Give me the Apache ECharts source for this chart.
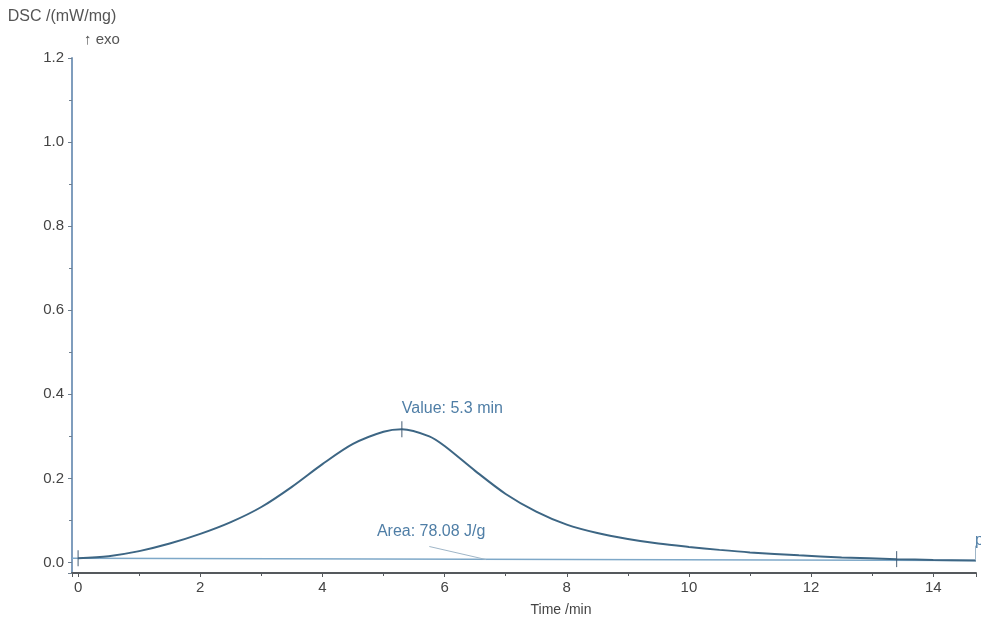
<!DOCTYPE html>
<html>
<head>
<meta charset="utf-8">
<script src="https://cdn.jsdelivr.net/npm/echarts@6/dist/echarts.min.js"></script>
<style>
  html, body { margin: 0; padding: 0; background: #fff; }
  #chart { width: 981px; height: 619px; }
</style>
</head>
<body>
<div id="chart"></div>
<script>
// DSC curve (time /min, mW/mg)
const curveTime = [0, 0.5, 1, 1.5, 2, 2.5, 3, 3.5, 4, 4.5, 5, 5.3, 5.75, 6, 6.5, 7, 7.5, 8, 8.5, 9, 9.5, 10, 10.5, 11, 11.8, 12.5, 13.4, 14, 14.7]
const curveDsc = [0.010, 0.015, 0.027, 0.045, 0.068, 0.096, 0.132, 0.180, 0.234, 0.282, 0.311, 0.317, 0.300, 0.277, 0.218, 0.163, 0.121, 0.090, 0.070, 0.056, 0.045, 0.037, 0.030, 0.024, 0.017, 0.012, 0.008, 0.006, 0.005]

// integration baseline
const baseTime = [-0.1, 14.7]
const baseDsc = [0.0098, 0.005]

// evaluation markers: start, peak, end
const markTime = [0, 5.3, 13.4]
const markDsc = [0.010, 0.317, 0.008]

const peakLabel = 'Value: 5.3 min'
const areaLabel = 'Area: 78.08 J/g'

const chart = echarts.init(document.getElementById('chart'))

const blue = '#4f7ea6'
const font = 'Liberation Sans, Arial, sans-serif'

const option = {
  backgroundColor: '#fff',
  animation: false,
  textStyle: { fontFamily: font },
  grid: { left: 72, right: 5, top: 58, bottom: 46, outerBoundsMode: 'none', containLabel: false },
  xAxis: {
    type: 'value',
    min: -0.1,
    max: 14.7,
    splitNumber: 8,
    name: 'Time /min',
    nameLocation: 'middle',
    nameGap: 30,
    nameTextStyle: { color: '#444', fontSize: 14, padding: [0, 0, 0, 74] },
    axisLine: { onZero: false, lineStyle: { color: '#55595d', width: 2 } },
    axisTick: { show: true, length: 4, lineStyle: { color: '#55595d' } },
    minorTick: { show: true, splitNumber: 2, length: 3, lineStyle: { color: '#55595d' } },
    axisLabel: { color: '#444', fontSize: 15, margin: 7, showMinLabel: false, showMaxLabel: false },
    splitLine: { show: false }
  },
  yAxis: {
    type: 'value',
    min: -0.025,
    max: 1.2,
    splitNumber: 6,
    name: 'DSC /(mW/mg)',
    nameLocation: 'end',
    nameGap: 33,
    nameTextStyle: { color: '#555', fontSize: 16, align: 'center', padding: [0, 20, 0, 0] },
    axisLine: { onZero: false, lineStyle: { color: '#7f9dbd', width: 2 } },
    axisTick: { show: true, length: 4, lineStyle: { color: '#6f7f8f' } },
    minorTick: { show: true, splitNumber: 2, length: 3, lineStyle: { color: '#6f7f8f' } },
    axisLabel: {
      color: '#444',
      fontSize: 15,
      margin: 8,
      formatter: v => (v < 0 ? '' : v.toFixed(1))
    },
    splitLine: { show: false }
  },
  graphic: [
    { type: 'text', left: 84, top: 32, style: { text: '↑ exo', fill: '#555', fontSize: 15, fontFamily: font } },
    { type: 'text', right: -3, top: 533, style: { text: 'p', fill: blue, fontSize: 16, fontFamily: font } }
  ],
  series: [
    {
      type: 'line',
      name: 'baseline',
      data: baseTime.map((t, i) => [t, baseDsc[i]]),
      symbol: 'none',
      lineStyle: { color: '#7ea8c8', width: 1.5 },
      z: 2
    },
    {
      type: 'line',
      name: 'DSC',
      data: curveTime.map((t, i) => [t, curveDsc[i]]),
      smooth: 0.3,
      symbol: 'none',
      lineStyle: { color: '#3d6684', width: 2 },
      z: 3,
      markPoint: {
        symbol: 'circle',
        symbolSize: 1,
        itemStyle: { color: 'rgba(0,0,0,0)' },
        silent: true,
        data: [
          {
            coord: [5.3, 0.317],
            label: { show: true, position: 'top', formatter: peakLabel, color: blue, fontSize: 16, align: 'left', distance: 12 }
          },
          {
            coord: [5.78, 0.074],
            label: { show: true, position: 'inside', formatter: areaLabel, color: blue, fontSize: 16, align: 'center' }
          }
        ]
      },
      markLine: {
        symbol: 'none',
        silent: true,
        label: { show: false },
        lineStyle: { color: '#9fb6c8', width: 1, type: 'solid' },
        data: [
          [{ coord: [5.75, 0.038] }, { coord: [6.68, 0.007] }],
          [{ coord: [14.68, 0.005] }, { coord: [14.68, 0.04] }]
        ]
      }
    },
    {
      type: 'scatter',
      name: 'markers',
      data: markTime.map((t, i) => [t, markDsc[i]]),
      symbol: 'rect',
      symbolSize: [1.2, 16],
      itemStyle: { color: '#3d5870' },
      z: 4
    }
  ]
}

chart.setOption(option)
window.addEventListener('resize', () => chart.resize())
</script>
</body>
</html>
